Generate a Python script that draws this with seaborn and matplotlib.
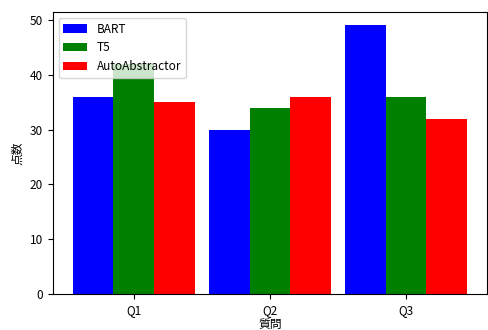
import seaborn as sns
import pandas as pd
import matplotlib.pyplot as plt

# data
questions = ["Q1", "Q2", "Q3"]
bart = [36, 30, 49]
t5 = [42, 34, 36]
auto_abstractor = [35, 36, 32]
models = ["BART", "T5", "AutoAbstractor"]

df = pd.DataFrame({
    "質問": questions * 3,
    "点数": bart + t5 + auto_abstractor,
    "model": [m for m in models for _ in questions],
})

plt.rcParams['font.family'] = ['Noto Sans CJK JP', 'DejaVu Sans']
plt.rcParams['font.size'] = 8.5

fig = plt.figure(figsize=(4.89, 3.30), dpi=100)
ax = fig.add_axes([0.108, 0.109, 0.888, 0.855])
sns.barplot(data=df, x="質問", y="点数", hue="model", hue_order=models,
            palette=["blue", "green", "red"], width=0.9, saturation=1, ax=ax)
ax.legend(loc="upper left", title=None)
ax.set_xlim(-0.595, 2.595)
ax.set_ylim(0, 51.45)
ax.set_xlabel("質問", labelpad=1)
plt.savefig("out.png", dpi=100)
